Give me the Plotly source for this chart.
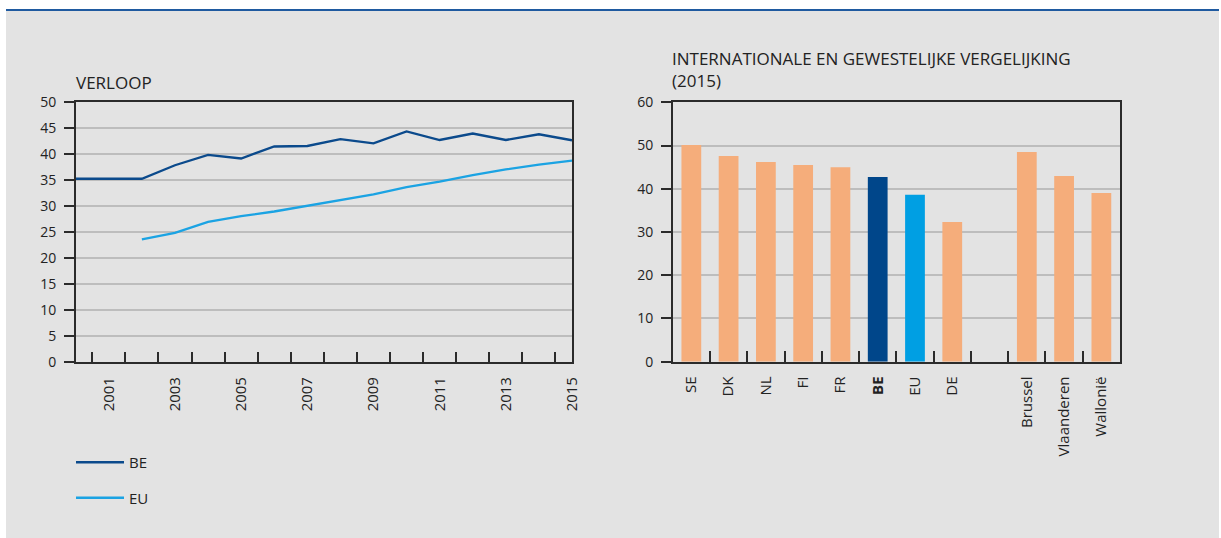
import plotly.graph_objects as go

W, H = 1221, 538

# ---------------- data ----------------
years = list(range(2000, 2016))
be_values = [35.3, 35.3, 35.3, 37.9, 39.9, 39.2, 41.5, 41.6, 42.9, 42.1,
             44.4, 42.75, 44.0, 42.75, 43.85, 42.7]
eu_values = [None, None, 23.65, 24.9, 27.0, 28.1, 29.0, 30.1, 31.1, 32.3,
             33.7, 34.75, 36.0, 37.1, 38.0, 38.8]
year_labels = [str(y) if y % 2 == 1 else "" for y in years]

bar_categories = ["SE", "DK", "NL", "FI", "FR", "BE", "EU", "DE", " ",
                  "Brussel", "Vlaanderen", "Wallonië"]
bar_values = [50.1, 47.6, 46.2, 45.5, 45.0, 42.7, 38.6, 32.3, None,
              48.5, 42.95, 39.0]
bar_ticktext = ["SE", "DK", "NL", "FI", "FR", "<b>BE</b>", "EU", "DE", "",
                "Brussel", "Vlaanderen", "Wallonië"]

left_title = "VERLOOP"
right_title = "INTERNATIONALE EN GEWESTELIJKE VERGELIJKING<br>(2015)"

# ---------------- styles ----------------
C_BE = "#0b4a8c"
C_EU = "#1ba3e3"
C_ORANGE = "#f5ad7b"
C_BAR_BE = "#00468a"
C_BAR_EU = "#009fe3"
bar_colors = [C_ORANGE] * 5 + [C_BAR_BE, C_BAR_EU] + [C_ORANGE] * 5
BG = "#e3e3e3"
GRID = "#bdbdbd"
AX = "#2b2b2b"
FONT = "Open Sans"
TXT = "#222222"


def px_x(p):
    return p / W


def px_y(p):
    return 1 - p / H


fig = go.Figure()

fig.add_trace(go.Scatter(x=[str(y) for y in years], y=be_values, name="BE", mode="lines",
                         line=dict(color=C_BE, width=2.3), xaxis="x", yaxis="y",
                         legendgroup="a"))
fig.add_trace(go.Scatter(x=[str(y) for y in years], y=eu_values, name="EU", mode="lines",
                         line=dict(color=C_EU, width=2.3), xaxis="x", yaxis="y",
                         legendgroup="b", connectgaps=False))

fig.add_trace(go.Bar(x=bar_categories, y=bar_values, marker=dict(color=bar_colors, line=dict(width=0)),
                     width=0.53, xaxis="x2", yaxis="y2", showlegend=False))

tickfont = dict(family=FONT, size=15, color=TXT)
ytickfont = dict(family=FONT, size=14, color=TXT)

fig.update_layout(
    width=W, height=H, autosize=False,
    margin=dict(l=0, r=0, t=0, b=0, pad=0, autoexpand=False),
    paper_bgcolor="white",
    plot_bgcolor="white",
    font=dict(family=FONT, size=14, color=TXT),
    showlegend=True,
    legend=dict(x=px_x(71), y=px_y(446), xanchor="left", yanchor="top",
                bgcolor="rgba(0,0,0,0)", font=dict(family=FONT, size=15, color=TXT),
                tracegroupgap=13, itemwidth=48),
    xaxis=dict(domain=[px_x(75.7), px_x(572)], type="category", automargin=False,
               tickmode="array", tickvals=[str(y) for y in years], ticktext=year_labels,
               tickson="boundaries", ticks="inside", ticklen=11, tickwidth=1.5, tickcolor=AX,
               tickangle=-90, tickfont=tickfont, ticklabelstandoff=7,
               showline=True, linecolor=AX, linewidth=1.5, mirror=True,
               showgrid=False, anchor="y", fixedrange=True),
    yaxis=dict(domain=[px_y(362.3), px_y(102.3)], range=[0, 50], dtick=5, automargin=False,
               ticks="outside", ticklen=10, tickwidth=1.5, tickcolor=AX, tickfont=ytickfont,
               ticklabelstandoff=5,
               showline=True, linecolor=AX, linewidth=1.5, mirror=True,
               showgrid=True, gridcolor=GRID, gridwidth=1.5, zeroline=False,
               anchor="x", fixedrange=True),
    xaxis2=dict(domain=[px_x(672.7), px_x(1120)], type="category", automargin=False,
                tickmode="array", tickvals=bar_categories, ticktext=bar_ticktext,
                tickson="boundaries", ticks="inside", ticklen=11, tickwidth=1.5, tickcolor=AX,
                tickangle=-90, tickfont=tickfont, ticklabelstandoff=7,
                showline=True, linecolor=AX, linewidth=1.5, mirror=True,
                showgrid=False, anchor="y2", fixedrange=True),
    yaxis2=dict(domain=[px_y(361.7), px_y(102.3)], range=[0, 60], dtick=10, automargin=False,
                ticks="outside", ticklen=10, tickwidth=1.5, tickcolor=AX, tickfont=ytickfont,
                ticklabelstandoff=5,
                showline=True, linecolor=AX, linewidth=1.5, mirror=True,
                showgrid=True, gridcolor=GRID, gridwidth=1.5, zeroline=False,
                anchor="x2", fixedrange=True),
    shapes=[
        dict(type="rect", xref="paper", yref="paper", x0=px_x(6), x1=px_x(1219),
             y0=0, y1=px_y(10), fillcolor=BG, line=dict(width=0), layer="below"),
        dict(type="line", xref="paper", yref="paper", x0=px_x(6), x1=px_x(1219),
             y0=px_y(10), y1=px_y(10), line=dict(color="#1f5aa0", width=2), layer="above"),
    ],
    annotations=[
        dict(text=left_title, xref="paper", yref="paper", x=px_x(74), y=px_y(69),
             xanchor="left", yanchor="top", showarrow=False,
             font=dict(family=FONT, size=17, color=TXT), align="left"),
        dict(text=right_title, xref="paper", yref="paper", x=px_x(670), y=px_y(45),
             xanchor="left", yanchor="top", showarrow=False,
             font=dict(family=FONT, size=17, color=TXT), align="left"),
    ],
    bargap=0.48,
)

fig.write_html(
    "out.html",
    config={"displayModeBar": False, "responsive": False},
    post_script=(
        "document.documentElement.style.margin='0';"
        "document.documentElement.style.overflow='hidden';"
        "document.body.style.margin='0';document.body.style.padding='0';"
        "document.body.style.overflow='hidden';"
        "var d=document.getElementById('{plot_id}');"
        "d.style.position='fixed';d.style.left='0px';d.style.top='0px';"
    ),
)
